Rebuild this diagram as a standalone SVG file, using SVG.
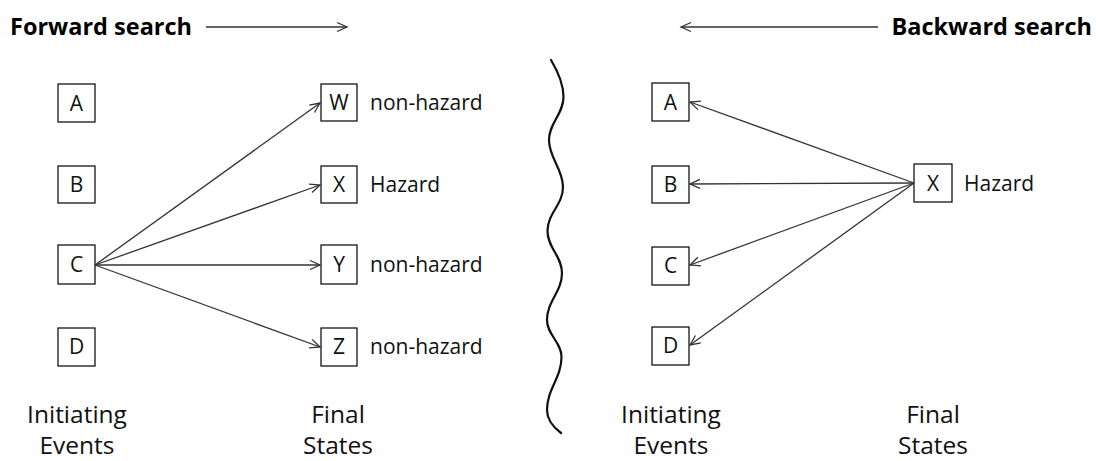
<svg xmlns="http://www.w3.org/2000/svg" width="1096" height="461" viewBox="0 0 1096 461">
  <style>
    .box { fill: #fff; stroke: #000; stroke-width: 1.2; }
    .lbl { font-family: "Open Sans", "Liberation Sans", sans-serif; font-size: 21px; fill: #111; }
    .cap { font-family: "Open Sans", "Liberation Sans", sans-serif; font-size: 24.5px; fill: #111; text-anchor: middle; }
    .mid { text-anchor: middle; }
    .title { font-family: "Open Sans", "Liberation Sans", sans-serif; font-size: 23.5px; font-weight: bold; fill: #000; }
    .edge { stroke: #333; stroke-width: 1.3; fill: none; marker-end: url(#head); }
  </style>
  <defs>
    <marker id="head" markerUnits="userSpaceOnUse" markerWidth="14" markerHeight="14" refX="11" refY="6" orient="auto">
      <path d="M1,1.5 L11,6 L1,10.5" fill="none" stroke="#333" stroke-width="1.3"/>
    </marker>
  </defs>

  <rect width="1096" height="461" fill="#fff"/>

  <!-- headings -->
  <text class="title" x="10" y="35">Forward search</text>
  <text class="title" x="1092" y="35" text-anchor="end">Backward search</text>

  <!-- forward side nodes -->
  <g id="fA"><rect class="box" x="58" y="84" width="37" height="38"/><text class="lbl mid" x="76.5" y="110.5">A</text></g>
  <g id="fB"><rect class="box" x="58" y="166" width="37" height="37"/><text class="lbl mid" x="76.5" y="192">B</text></g>
  <g id="fC"><rect class="box" x="58" y="245" width="37" height="39"/><text class="lbl mid" x="76.5" y="272">C</text></g>
  <g id="fD"><rect class="box" x="58" y="328" width="37" height="38"/><text class="lbl mid" x="76.5" y="354">D</text></g>
  <g id="fW"><rect class="box" x="321" y="84" width="36" height="37"/><text class="lbl mid" x="339" y="110">W</text><text class="lbl" x="370" y="110">non-hazard</text></g>
  <g id="fX"><rect class="box" x="321" y="166" width="36" height="37"/><text class="lbl mid" x="339" y="192">X</text><text class="lbl" x="370" y="192">Hazard</text></g>
  <g id="fY"><rect class="box" x="321" y="245" width="36" height="39"/><text class="lbl mid" x="339" y="272">Y</text><text class="lbl" x="370" y="272">non-hazard</text></g>
  <g id="fZ"><rect class="box" x="321" y="328" width="36" height="38"/><text class="lbl mid" x="339" y="354">Z</text><text class="lbl" x="370" y="354">non-hazard</text></g>

  <!-- backward side nodes -->
  <g id="bA"><rect class="box" x="652" y="83" width="37" height="38"/><text class="lbl mid" x="670.5" y="109.5">A</text></g>
  <g id="bB"><rect class="box" x="652" y="166" width="37" height="37"/><text class="lbl mid" x="670.5" y="192">B</text></g>
  <g id="bC"><rect class="box" x="652" y="247" width="37" height="38"/><text class="lbl mid" x="670.5" y="273">C</text></g>
  <g id="bD"><rect class="box" x="652" y="327" width="37" height="38"/><text class="lbl mid" x="670.5" y="353">D</text></g>
  <g id="bX"><rect class="box" x="914" y="164" width="38" height="38"/><text class="lbl mid" x="933" y="191">X</text><text class="lbl" x="964" y="191">Hazard</text></g>

  <!-- connectors -->
  <g id="connectors">
    <line class="edge" x1="206" y1="27" x2="347" y2="27"/>
    <line class="edge" x1="878" y1="27" x2="681" y2="27"/>
    <line class="edge" x1="95" y1="265" x2="320" y2="103"/>
    <line class="edge" x1="95" y1="265" x2="320" y2="185"/>
    <line class="edge" x1="95" y1="265" x2="320" y2="265"/>
    <line class="edge" x1="95" y1="265" x2="320" y2="347"/>
    <line class="edge" x1="914" y1="183" x2="690" y2="102"/>
    <line class="edge" x1="914" y1="183" x2="690" y2="184"/>
    <line class="edge" x1="914" y1="183" x2="690" y2="265"/>
    <line class="edge" x1="914" y1="183" x2="690" y2="345"/>
  </g>

  <!-- wavy divider -->
  <path d="M551,60 C557,70 563.5,83 563.5,97 C563.5,114 549,123 549,140 C549,158 563,169 563,187 C563,205 547.5,213 547.5,231 C547.5,248 562,256 562,273 C562,292 547,301 547,320 C547,335 561.5,342 561.5,357 C561.5,378 547,389 547,410 C547,420 553,427 561,433" fill="none" stroke="#111" stroke-width="2.2" stroke-linecap="round"/>

  <!-- column captions -->
  <g class="cap">
    <text x="77" y="423">Initiating</text>
    <text x="77" y="454">Events</text>
    <text x="338" y="423">Final</text>
    <text x="338" y="454">States</text>
    <text x="671" y="423">Initiating</text>
    <text x="671" y="454">Events</text>
    <text x="933" y="423">Final</text>
    <text x="933" y="454">States</text>
  </g>
</svg>
